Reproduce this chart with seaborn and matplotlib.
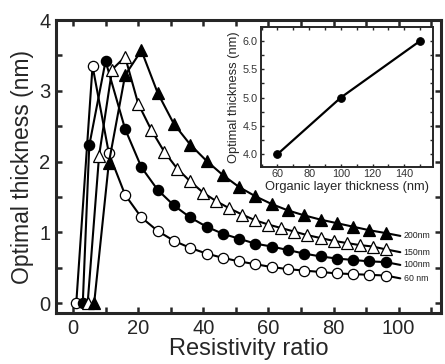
import numpy as np
import pandas as pd
import matplotlib
matplotlib.use("Agg")
import matplotlib.pyplot as plt
from matplotlib.ticker import MultipleLocator
import seaborn as sns

sns.set_style("ticks")
plt.rcParams["font.family"] = ["Liberation Sans", "DejaVu Sans"]

# main panel data
x_60 = [1, 6, 11, 16, 21, 26, 31, 36, 41, 46, 51, 56, 61, 66, 71, 76, 81, 86, 91, 96]
y_60 = [0, 3.35, 2.12, 1.53, 1.21, 1.02, 0.88, 0.78, 0.70, 0.64, 0.59, 0.55, 0.51,
        0.48, 0.46, 0.44, 0.42, 0.41, 0.40, 0.39]

x_100 = [3, 5, 10, 16, 21, 26, 31, 36, 41, 46, 51, 56, 61, 66, 71, 76, 81, 86, 91, 96]
y_100 = [0, 2.23, 3.42, 2.46, 1.92, 1.60, 1.38, 1.21, 1.08, 0.98, 0.91, 0.84, 0.80,
         0.75, 0.70, 0.66, 0.63, 0.61, 0.59, 0.58]

x_150 = [4.5, 8, 12, 16, 20, 24, 28, 32, 36, 40, 44, 48, 52, 56, 60, 64, 68, 72, 76,
         80, 84, 88, 92, 96]
y_150 = [0, 2.08, 3.30, 3.48, 2.82, 2.45, 2.14, 1.90, 1.72, 1.56, 1.44, 1.34, 1.25,
         1.17, 1.11, 1.06, 1.01, 0.96, 0.92, 0.88, 0.85, 0.82, 0.80, 0.76]

x_200 = [6.5, 11, 16, 21, 26, 31, 36, 41, 46, 51, 56, 61, 66, 71, 76, 81, 86, 91, 96]
y_200 = [0, 1.98, 3.22, 3.57, 2.97, 2.53, 2.24, 2.01, 1.81, 1.64, 1.51, 1.40, 1.31,
         1.24, 1.18, 1.13, 1.08, 1.03, 0.99]

labels = ["60 nm", "100nm", "150nm", "200nm"]

# inset data
organic = [60, 100, 150]
opt_thick = [4.0, 5.0, 6.0]

series = [
    (x_60, y_60, "o", "white"),
    (x_100, y_100, "o", "black"),
    (x_150, y_150, "^", "white"),
    (x_200, y_200, "^", "black"),
]

fig = plt.figure(figsize=(4.45, 3.64), dpi=100)
ax = fig.add_axes([0.126, 0.140, 0.865, 0.805])

for (xs, ys, mk, fc), lab in zip(series, labels):
    df = pd.DataFrame({"x": xs, "y": ys})
    sns.lineplot(data=df, x="x", y="y", ax=ax, color="black", lw=1.5,
                 marker=mk, markersize=8.4 if mk == "^" else 7.4,
                 markerfacecolor=fc, markeredgecolor="black",
                 markeredgewidth=0.9, zorder=3)
    # tail to the label
    ty = ys[-1] - 0.04
    ax.plot([xs[-1], 100.5], [ys[-1], ty], color="black", lw=1.5, zorder=2)
    ax.text(101.5, ty, lab, fontsize=6.3, va="center", ha="left", color="#222")

ax.set_xlim(-5.2, 113)
ax.set_ylim(-0.14, 4.0)
ax.xaxis.set_major_locator(MultipleLocator(20))
ax.xaxis.set_minor_locator(MultipleLocator(10))
ax.yaxis.set_major_locator(MultipleLocator(1))
ax.yaxis.set_minor_locator(MultipleLocator(0.5))
ax.tick_params(which="both", direction="in", top=True, right=True,
               length=4, width=1.8, labelsize=14.5, pad=4)
for sp in ax.spines.values():
    sp.set_linewidth(2.2)
ax.set_xlabel("Resistivity ratio", fontsize=17, labelpad=0)
ax.set_ylabel("Optimal thickness (nm)", fontsize=16.5, labelpad=4)

# inset
ins = fig.add_axes([0.586, 0.542, 0.388, 0.383])
ins.set_facecolor("white")
sns.lineplot(x=organic, y=opt_thick, ax=ins, color="black", lw=1.6,
             marker="o", markersize=5.5, markeredgecolor="black",
             markerfacecolor="black")
ins.set_xlim(49.5, 158.4)
ins.set_ylim(3.78, 6.24)
ins.xaxis.set_major_locator(MultipleLocator(20))
ins.xaxis.set_minor_locator(MultipleLocator(10))
ins.yaxis.set_major_locator(MultipleLocator(0.5))
ins.yaxis.set_minor_locator(MultipleLocator(0.25))
ins.yaxis.set_major_formatter(plt.FormatStrFormatter("%.1f"))
ins.tick_params(which="both", direction="in", top=True, right=True,
                length=2.5, width=1.0, labelsize=7.8, pad=2, labelcolor="#333")
for sp in ins.spines.values():
    sp.set_linewidth(1.4)
ins.set_xlabel("Organic layer thickness (nm)", fontsize=9.3, labelpad=1)
ins.set_ylabel("Optimal thickness (nm)", fontsize=9.3, labelpad=2)

fig.savefig("out.png", dpi=100)
